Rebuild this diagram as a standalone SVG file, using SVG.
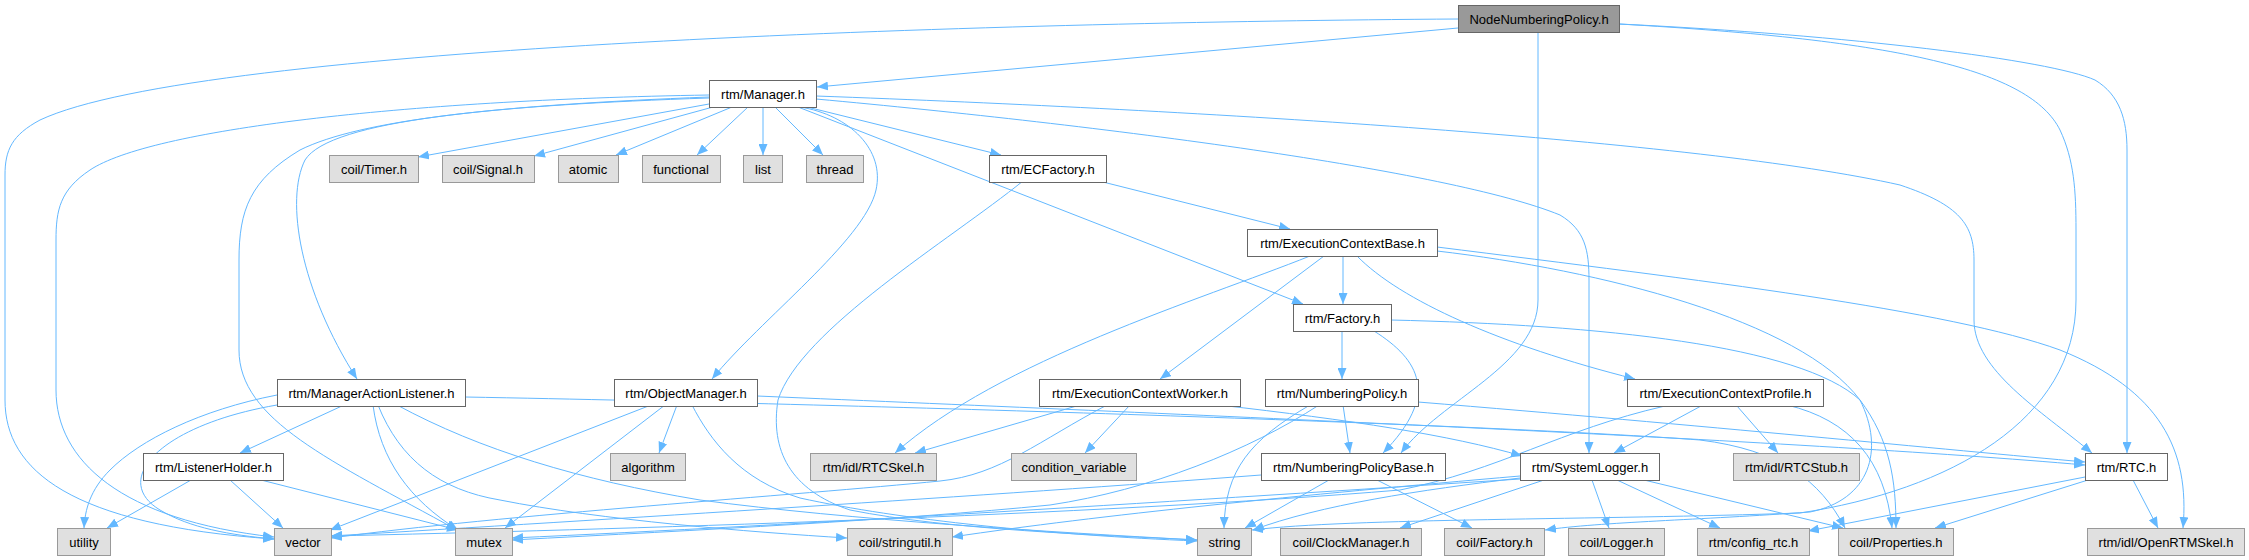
<svg xmlns="http://www.w3.org/2000/svg" width="2249" height="560" viewBox="0 0 2249 560">
<style>
.n rect{fill:#fff;stroke:#666;stroke-width:1}
.x rect{fill:#e0e0e0;stroke:#999;stroke-width:1}
.r rect{fill:#999;stroke:#666;stroke-width:1}
text{font-family:"Liberation Sans",Arial,sans-serif;font-size:13px;fill:#000;text-anchor:middle}
#edges path{fill:none;stroke:#63b8ff;stroke-width:1;marker-end:url(#a)}
</style>
<defs>
<marker id="a" viewBox="0 0 11 9" refX="11" refY="4.5" markerWidth="11" markerHeight="9" markerUnits="userSpaceOnUse" orient="auto">
<path d="M0,0 L11,4.5 L0,9 z" fill="#63b8ff"/>
</marker>
</defs>
<rect width="2249" height="560" fill="#fff"/>
<g id="edges">
<path d="M1458,28 L817,87"/>
<path d="M1458,19 C1000,22 200,45 40,120 C12,135 5,150 5,175 L5,400 C5,470 70,525 274,539"/>
<path d="M1538,32 L1538,300 C1538,365 1440,400 1401,453"/>
<path d="M1619,24 C1900,40 2030,70 2060,130 C2074,160 2076,190 2076,230 L2076,300 C2076,420 1950,490 1800,513 C1600,520 1350,518 1252,530"/>
<path d="M1619,24 C1850,35 2050,60 2095,80 C2120,95 2127,120 2127,150 L2127,453"/>
<path d="M709,104 L418,157"/>
<path d="M713,107 L534,156"/>
<path d="M732,107 L616,155"/>
<path d="M748,107 L697,155"/>
<path d="M763,107 L763,155"/>
<path d="M775,107 L823,155"/>
<path d="M807,107 L1001,155"/>
<path d="M798,107 L1303,304"/>
<path d="M709,98 C500,105 330,120 305,160 C285,200 300,290 357,379"/>
<path d="M800,107 C850,115 885,150 876,190 C865,240 760,320 712,379"/>
<path d="M816,99 C1100,125 1450,170 1560,215 C1585,230 1589,250 1589,280 L1589,453"/>
<path d="M816,96 C1200,110 1700,140 1900,185 C1960,205 1974,225 1974,260 L1974,320 C1974,370 2040,410 2092,453"/>
<path d="M709,95 C400,100 150,130 90,170 C60,190 56,210 56,240 L56,390 C56,460 120,520 274,537"/>
<path d="M709,97 C500,105 360,120 300,150 C250,180 239,210 239,260 L239,350 C239,420 330,460 457,530"/>
<path d="M1099,181 L1290,229"/>
<path d="M1023,181 C950,240 800,330 778,400 C770,450 790,490 850,510 C950,530 1100,535 1197,540"/>
<path d="M1310,256 C1200,300 1000,360 895,453"/>
<path d="M1324,256 L1160,379"/>
<path d="M1343,256 L1343,304"/>
<path d="M1357,256 C1400,300 1500,345 1635,379"/>
<path d="M1437,247 C1700,280 1950,310 2060,350 C2160,390 2190,450 2183,528"/>
<path d="M1437,251 C1600,270 1800,320 1860,400 C1885,450 1870,500 1810,512 C1700,520 1600,522 1545,530"/>
<path d="M1342,331 L1342,379"/>
<path d="M1374,331 C1420,360 1440,395 1383,453"/>
<path d="M1391,320 C1600,325 1800,345 1860,400 C1890,440 1896,480 1896,528"/>
<path d="M1080,405 L915,453"/>
<path d="M1130,405 L1085,453"/>
<path d="M1107,405 C1040,440 1000,475 940,481 C800,495 500,515 331,538"/>
<path d="M1219,405 C1350,420 1450,435 1522,456"/>
<path d="M1343,405 L1350,453"/>
<path d="M1310,405 C1250,440 1225,470 1224,528"/>
<path d="M1319,405 C1250,450 1150,490 1050,505 C900,520 700,530 512,540"/>
<path d="M1418,402 C1700,425 1950,450 2085,462"/>
<path d="M1737,406 L1778,453"/>
<path d="M1701,406 L1614,453"/>
<path d="M1787,405 C1850,420 1885,460 1892,528"/>
<path d="M1665,406 C1560,430 1500,470 1400,490 C1100,515 600,530 331,536"/>
<path d="M1329,480 L1245,528"/>
<path d="M1377,480 L1472,528"/>
<path d="M1261,475 C1000,495 600,520 331,536"/>
<path d="M1544,480 L1400,528"/>
<path d="M1592,480 L1609,528"/>
<path d="M1617,480 L1720,528"/>
<path d="M1644,480 L1843,528"/>
<path d="M1520,478 C1420,490 1320,505 1253,530"/>
<path d="M1520,476 C1300,495 1100,515 952,537"/>
<path d="M1520,479 C1200,500 800,525 512,538"/>
<path d="M2085,477 L1808,531"/>
<path d="M2088,480 L1935,528"/>
<path d="M2133,480 L2158,528"/>
<path d="M191,480 L107,528"/>
<path d="M230,480 L283,528"/>
<path d="M261,480 L458,530"/>
<path d="M344,405 L240,453"/>
<path d="M277,395 C200,410 140,440 110,470 C90,490 85,510 84,528"/>
<path d="M277,405 C160,425 110,480 160,510 C190,528 230,535 274,539"/>
<path d="M373,405 C380,460 410,500 458,530"/>
<path d="M378,405 C400,460 440,490 500,500 C600,520 750,532 847,538"/>
<path d="M397,405 C480,450 580,480 700,500 C850,520 1050,532 1197,540"/>
<path d="M465,397 C900,405 1500,425 1700,440 C1780,450 1820,480 1845,528"/>
<path d="M651,405 L330,530"/>
<path d="M665,405 L505,528"/>
<path d="M677,405 L659,453"/>
<path d="M692,405 C710,440 740,480 800,498 C900,520 1050,535 1197,541"/>
<path d="M757,396 C1200,415 1800,440 2085,465"/>
</g>
<g id="n0" class="r"><rect x="1458.5" y="5.5" width="161" height="27"/><text x="1539" y="23.5">NodeNumberingPolicy.h</text></g>
<g id="n1" class="n"><rect x="709.5" y="80.5" width="107" height="27"/><text x="763" y="98.5">rtm/Manager.h</text></g>
<g id="n2" class="x"><rect x="329.5" y="155.5" width="89" height="27"/><text x="374" y="173.5">coil/Timer.h</text></g>
<g id="n3" class="x"><rect x="442.5" y="155.5" width="92" height="27"/><text x="488" y="173.5">coil/Signal.h</text></g>
<g id="n4" class="x"><rect x="558.5" y="155.5" width="60" height="27"/><text x="588" y="173.5">atomic</text></g>
<g id="n5" class="x"><rect x="642.5" y="155.5" width="78" height="27"/><text x="681" y="173.5">functional</text></g>
<g id="n6" class="x"><rect x="743.5" y="155.5" width="39" height="27"/><text x="763" y="173.5">list</text></g>
<g id="n7" class="x"><rect x="806.5" y="155.5" width="57" height="27"/><text x="835" y="173.5">thread</text></g>
<g id="n8" class="n"><rect x="989.5" y="155.5" width="117" height="27"/><text x="1048" y="173.5">rtm/ECFactory.h</text></g>
<g id="n9" class="n"><rect x="1247.5" y="229.5" width="190" height="27"/><text x="1342.5" y="247.5">rtm/ExecutionContextBase.h</text></g>
<g id="n10" class="n"><rect x="1293.5" y="304.5" width="98" height="27"/><text x="1342.5" y="322.5">rtm/Factory.h</text></g>
<g id="n11" class="n"><rect x="277.5" y="379.5" width="188" height="27"/><text x="371.5" y="397.5">rtm/ManagerActionListener.h</text></g>
<g id="n12" class="n"><rect x="614.5" y="379.5" width="143" height="27"/><text x="686" y="397.5">rtm/ObjectManager.h</text></g>
<g id="n13" class="n"><rect x="1039.5" y="379.5" width="201" height="27"/><text x="1140" y="397.5">rtm/ExecutionContextWorker.h</text></g>
<g id="n14" class="n"><rect x="1265.5" y="379.5" width="153" height="27"/><text x="1342" y="397.5">rtm/NumberingPolicy.h</text></g>
<g id="n15" class="n"><rect x="1627.5" y="379.5" width="196" height="27"/><text x="1725.5" y="397.5">rtm/ExecutionContextProfile.h</text></g>
<g id="n16" class="n"><rect x="143.5" y="453.5" width="140" height="27"/><text x="213.5" y="471.5">rtm/ListenerHolder.h</text></g>
<g id="n17" class="x"><rect x="610.5" y="453.5" width="75" height="27"/><text x="648" y="471.5">algorithm</text></g>
<g id="n18" class="x"><rect x="810.5" y="453.5" width="126" height="27"/><text x="873.5" y="471.5">rtm/idl/RTCSkel.h</text></g>
<g id="n19" class="x"><rect x="1011.5" y="453.5" width="125" height="27"/><text x="1074" y="471.5">condition_variable</text></g>
<g id="n20" class="n"><rect x="1261.5" y="453.5" width="184" height="27"/><text x="1353.5" y="471.5">rtm/NumberingPolicyBase.h</text></g>
<g id="n21" class="n"><rect x="1520.5" y="453.5" width="139" height="27"/><text x="1590" y="471.5">rtm/SystemLogger.h</text></g>
<g id="n22" class="x"><rect x="1733.5" y="453.5" width="126" height="27"/><text x="1796.5" y="471.5">rtm/idl/RTCStub.h</text></g>
<g id="n23" class="n"><rect x="2085.5" y="453.5" width="82" height="27"/><text x="2126.5" y="471.5">rtm/RTC.h</text></g>
<g id="n24" class="x"><rect x="57.5" y="528.5" width="53" height="27"/><text x="84" y="546.5">utility</text></g>
<g id="n25" class="x"><rect x="274.5" y="528.5" width="57" height="27"/><text x="303" y="546.5">vector</text></g>
<g id="n26" class="x"><rect x="455.5" y="528.5" width="57" height="27"/><text x="484" y="546.5">mutex</text></g>
<g id="n27" class="x"><rect x="847.5" y="528.5" width="105" height="27"/><text x="900" y="546.5">coil/stringutil.h</text></g>
<g id="n28" class="x"><rect x="1197.5" y="528.5" width="54" height="27"/><text x="1224.5" y="546.5">string</text></g>
<g id="n29" class="x"><rect x="1280.5" y="528.5" width="141" height="27"/><text x="1351" y="546.5">coil/ClockManager.h</text></g>
<g id="n30" class="x"><rect x="1444.5" y="528.5" width="100" height="27"/><text x="1494.5" y="546.5">coil/Factory.h</text></g>
<g id="n31" class="x"><rect x="1568.5" y="528.5" width="96" height="27"/><text x="1616.5" y="546.5">coil/Logger.h</text></g>
<g id="n32" class="x"><rect x="1697.5" y="528.5" width="112" height="27"/><text x="1753.5" y="546.5">rtm/config_rtc.h</text></g>
<g id="n33" class="x"><rect x="1838.5" y="528.5" width="115" height="27"/><text x="1896" y="546.5">coil/Properties.h</text></g>
<g id="n34" class="x"><rect x="2087.5" y="528.5" width="157" height="27"/><text x="2166" y="546.5">rtm/idl/OpenRTMSkel.h</text></g>
</svg>
